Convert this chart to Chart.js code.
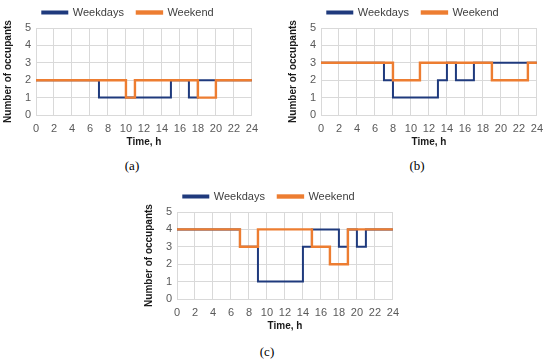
<!DOCTYPE html>
<html>
<head>
<meta charset="utf-8">
<script src="https://cdn.jsdelivr.net/npm/chart.js@4/dist/chart.umd.min.js"></script>
<style>
  html, body { margin: 0; padding: 0; background: #fff; }
  body { width: 550px; height: 360px; position: relative; overflow: hidden; }
  .wrap { position: absolute; width: 265px; height: 150px; }
  .wrap canvas { display: block; }
  .cap { position: absolute; font-family: "Liberation Serif", "DejaVu Serif", serif; font-size: 13px; color: #000; transform: translate(-50%, -50%); }
</style>
</head>
<body>
<div class="wrap" style="left:0px;top:0px;"><canvas id="ca" width="265" height="150"></canvas></div>
<div class="wrap" style="left:285px;top:0px;"><canvas id="cb" width="265" height="150"></canvas></div>
<div class="wrap" style="left:141px;top:184px;"><canvas id="cc" width="265" height="150"></canvas></div>
<div class="cap" style="left:132px;top:166px;">(a)</div>
<div class="cap" style="left:417px;top:166px;">(b)</div>
<div class="cap" style="left:267px;top:352px;">(c)</div>
<script>
// Series labels
const seriesNames = ["Weekdays", "Weekend"];
// Axis tick settings (values)
const xTicks = [0, 2, 4, 6, 8, 10, 12, 14, 16, 18, 20, 22, 24];
const yTicks = [0, 1, 2, 3, 4, 5];

// (a) change times (h) and number of occupants from that time
const aWeekdaysT = [0, 7, 15, 17, 18, 24];
const aWeekdaysV = [2, 1, 2, 1, 2, 2];
const aWeekendT  = [0, 10, 11, 18, 20, 24];
const aWeekendV  = [2, 1, 2, 1, 2, 2];

// (b)
const bWeekdaysT = [0, 7, 8, 13, 14, 15, 17, 24];
const bWeekdaysV = [3, 2, 1, 2, 3, 2, 3, 3];
const bWeekendT  = [0, 8, 11, 19, 23, 24];
const bWeekendV  = [3, 2, 3, 2, 3, 3];

// (c)
const cWeekdaysT = [0, 7, 9, 14, 15, 18, 19, 20, 21, 24];
const cWeekdaysV = [4, 3, 1, 3, 4, 3, 4, 3, 4, 4];
const cWeekendT  = [0, 7, 9, 15, 17, 19, 24];
const cWeekendV  = [4, 3, 4, 3, 2, 4, 4];

const BLUE = "#1F3A7D";
const ORANGE = "#ED7D31";
const GRID = "#D9D9D9";
const TICK = "#595959";
const FONT = "Arial, Liberation Sans, sans-serif";

function pts(t, v) { return t.map((x, i) => ({ x: x, y: v[i] })); }

function makeChart(id, wdT, wdV, weT, weV) {
  new Chart(document.getElementById(id), {
    type: "line",
    data: {
      datasets: [
        { label: seriesNames[0], data: pts(wdT, wdV), borderColor: BLUE, backgroundColor: BLUE,
          borderWidth: 2, pointRadius: 0, stepped: true, order: 1, fill: false },
        { label: seriesNames[1], data: pts(weT, weV), borderColor: ORANGE, backgroundColor: ORANGE,
          borderWidth: 2.4, pointRadius: 0, stepped: true, order: 0, fill: false }
      ]
    },
    options: {
      responsive: false,
      animation: false,
      events: [],
      layout: { padding: { top: -6, left: 0, right: 9, bottom: 0 } },
      plugins: {
        tooltip: { enabled: false },
        legend: {
          position: "top",
          labels: {
            boxWidth: 25, boxHeight: 2, padding: 13,
            color: "#404040",
            font: { family: FONT, size: 11 },
            sort: (a, b) => a.datasetIndex - b.datasetIndex
          }
        }
      },
      scales: {
        x: {
          type: "linear", min: 0, max: 24,
          afterBuildTicks: (s) => { s.ticks = xTicks.map(v => ({ value: v })); },
          afterFit: (s) => { s.height = 35; },
          ticks: { color: TICK, padding: 7, font: { family: FONT, size: 11 }, maxRotation: 0, autoSkip: false },
          grid: { color: GRID, lineWidth: 1, drawTicks: false },
          border: { color: GRID },
          title: { display: true, text: "Time, h", color: "#1a1a1a", padding: { top: 0, bottom: 2 },
                   font: { family: FONT, size: 10, weight: "bold" } }
        },
        y: {
          min: 0, max: 5,
          afterBuildTicks: (s) => { s.ticks = yTicks.map(v => ({ value: v })); },
          afterFit: (s) => { s.width = 36; },
          ticks: { color: TICK, padding: 5, font: { family: FONT, size: 11 } },
          grid: { color: GRID, lineWidth: 1, drawTicks: false },
          border: { color: GRID },
          title: { display: true, text: "Number of occupants", color: "#1a1a1a", padding: { top: 2, bottom: 0 },
                   font: { family: FONT, size: 10, weight: "bold" } }
        }
      }
    }
  });
}

makeChart("ca", aWeekdaysT, aWeekdaysV, aWeekendT, aWeekendV);
makeChart("cb", bWeekdaysT, bWeekdaysV, bWeekendT, bWeekendV);
makeChart("cc", cWeekdaysT, cWeekdaysV, cWeekendT, cWeekendV);
</script>
</body>
</html>
